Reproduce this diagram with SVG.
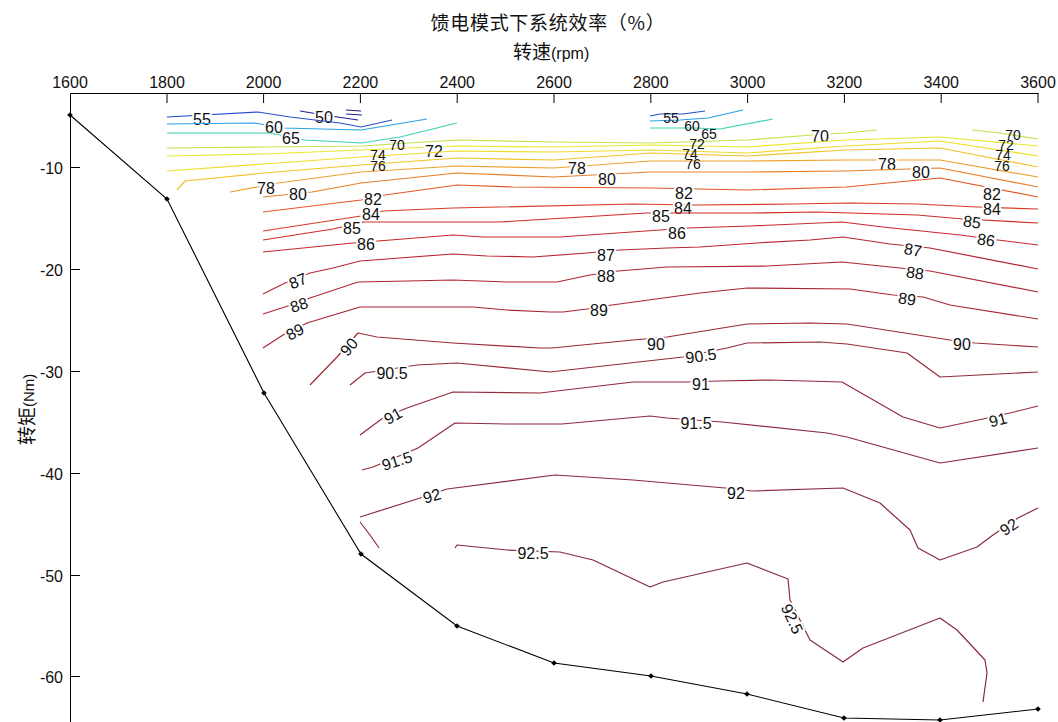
<svg xmlns="http://www.w3.org/2000/svg" width="1058" height="722" viewBox="0 0 1058 722">
<defs>
<marker id="dia" viewBox="-4 -4 8 8" markerWidth="7" markerHeight="7" refX="0" refY="0" markerUnits="userSpaceOnUse">
<path d="M0,-3.2 L3.2,0 L0,3.2 L-3.2,0 Z" fill="#000"/>
</marker>
</defs>
<style>
.ax{stroke:#000;stroke-width:1;fill:none}
.tk{font-family:"Liberation Sans",Arial,sans-serif;font-size:16px;fill:#111}
.c{fill:none;stroke-width:1.2;stroke-linejoin:round}
.l{font-family:"Liberation Sans",Arial,sans-serif;font-size:16px;fill:#111;stroke:#fff;stroke-width:4;paint-order:stroke;text-anchor:middle;dominant-baseline:central}
.n{font-family:"Liberation Sans",Arial,sans-serif;font-size:14px;fill:#111;text-anchor:middle;dominant-baseline:central}
.cjk{font-family:"Noto Sans CJK SC","Liberation Sans",sans-serif;fill:#111}
</style>
<rect width="1058" height="722" fill="#fff"/>

<g id="titles">
<text class="cjk" x="548" y="30" font-size="19" letter-spacing="0.7" text-anchor="middle">馈电模式下系统效率（%）</text>
<text class="cjk" x="513" y="59" font-size="19">转速<tspan font-family="Liberation Sans,Arial,sans-serif" font-size="16">(rpm)</tspan></text>
<text class="cjk" transform="translate(34,445) rotate(-90)" font-size="19">转矩<tspan font-family="Liberation Sans,Arial,sans-serif" font-size="15">(Nm)</tspan></text>
</g>

<g id="axes">
<path class="ax" d="M70.5,93.5 H1038.5 M70.5,93.5 V722"/>
<path class="ax" d="M167,93 V103 M263.6,93 V103 M360.4,93 V103 M457.2,93 V103 M554,93 V103 M650.8,93 V103 M747.6,93 V103 M844.4,93 V103 M941.2,93 V103 M1038,93 V103"/>
<path class="ax" d="M70,167.5 H80 M70,269.5 H80 M70,371.5 H80 M70,473.5 H80 M70,575.5 H80 M70,676.5 H80"/>
<g class="tk" text-anchor="middle">
<text x="70" y="88">1600</text><text x="167" y="88">1800</text><text x="263.6" y="88">2000</text><text x="360.4" y="88">2200</text><text x="457.2" y="88">2400</text><text x="554" y="88">2600</text><text x="650.8" y="88">2800</text><text x="747.6" y="88">3000</text><text x="844.4" y="88">3200</text><text x="941.2" y="88">3400</text><text x="1038" y="88">3600</text>
</g>
<g class="tk" text-anchor="end">
<text x="63" y="174">-10</text><text x="63" y="276">-20</text><text x="63" y="378">-30</text><text x="63" y="480">-40</text><text x="63" y="582">-50</text><text x="63" y="683">-60</text>
</g>
</g>

<g id="connectors">
<g id="c50" stroke="#1c1f96">
<path class="c" d="M300,111 L324,115 L358,120 M346,110 L361,111 M346,114 L362,115"/>
<text class="l" x="324" y="117">50</text>
</g>
<g id="c55" stroke="#2a4fd0">
<path class="c" d="M167,117 L258,112 L290,117 L340,123 L361,127 L392,120 M650,116 L660,114 L683,114 L705,111"/>
<text class="l" x="202" y="119">55</text>
</g>
<g id="c60" stroke="#2aa0e8">
<path class="c" d="M167,124 L255,123 L283,128 L361,130 L427,119 M650,121 L680,120 L708,118 L743,110"/>
<text class="l" x="274" y="127">60</text>
</g>
<g id="c65" stroke="#3cd2b4">
<path class="c" d="M167,133 L270,133 L305,140 L361,143 L400,137 L457,123 M650,128 L695,128 L720,129 L773,119"/>
<text class="l" x="291" y="138">65</text>
</g>
<g id="c70" stroke="#c2e44a">
<path class="c" d="M167,148 L264,147 L361,146 L457,140 L554,142 L651,143 L747,140 L812,135 L846,133 L877,130 M972,130 L1000,133 L1038,139"/>
<text class="l" x="820" y="136">70</text>
</g>
<g id="c72" stroke="#e6e82e">
<path class="c" d="M167,156 L264,154 L361,150 L457,146 L554,147 L651,145 L747,147 L846,140 L940,137 L1038,146"/>
<text class="l" x="434" y="151">72</text>
</g>
<g id="c74" stroke="#f0dc28">
<path class="c" d="M167,171 L264,164 L361,157 L457,151 L554,152 L651,150 L747,153 L846,146 L940,141 L1038,156"/>
</g>
<g id="c76" stroke="#f2c22a">
<path class="c" d="M177,190 L185,181 L264,173 L361,165 L457,158 L554,160 L651,153 L747,156 L846,150 L940,148 L1038,167"/>
</g>
<g id="c78" stroke="#f0a030">
<path class="c" d="M230,192 L257,187 L278,183 L361,172 L457,166 L554,168 L651,161 L747,161 L846,160 L940,160 L1038,177"/>
<text class="l" x="266" y="188">78</text>
<text class="l" x="577" y="168">78</text>
<text class="l" x="887" y="164">78</text>
</g>
<g id="c80" stroke="#e8802a">
<path class="c" d="M263,197 L312,192 L361,183 L457,173 L554,177 L651,172 L747,172 L846,171 L940,168 L1038,187"/>
<text class="l" x="298" y="194">80</text>
<text class="l" x="607" y="179">80</text>
<text class="l" x="921" y="172">80</text>
</g>
<g id="c82" stroke="#e05a28">
<path class="c" d="M263,212 L361,200 L385,195 L457,185 L513,187 L651,188 L747,190 L846,187 L940,178 L1038,197"/>
<text class="l" x="373" y="199">82</text>
<text class="l" x="684" y="193">82</text>
<text class="l" x="992" y="194">82</text>
</g>
<g id="c84" stroke="#d83a26">
<path class="c" d="M263,231 L361,216 L383,211 L453,208 L633,204 L695,205 L793,204 L850,203 L917,204 L977,207 L1038,209"/>
<text class="l" x="371" y="214">84</text>
<text class="l" x="683" y="208">84</text>
<text class="l" x="992" y="209">84</text>
</g>
<g id="c85" stroke="#d02c2a">
<path class="c" d="M263,240 L333,229 L363,222 L500,222 L647,213 L750,213 L817,212 L917,215 L963,219 L1038,223"/>
<text class="l" x="352" y="228">85</text>
<text class="l" x="661" y="216">85</text>
<text class="l" x="972" y="222" transform="rotate(8 972 222)">85</text>
</g>
<g id="c86" stroke="#c8282c">
<path class="c" d="M263,252 L353,243 L378,241 L453,235 L483,237 L560,237 L660,230 L687,228 L750,226 L842,222 L883,227 L960,235 L998,240 L1038,245"/>
<text class="l" x="366" y="244">86</text>
<text class="l" x="677" y="233">86</text>
<text class="l" x="986" y="240" transform="rotate(8 986 240)">86</text>
</g>
<g id="c87" stroke="#b82630">
<path class="c" d="M263,294 L285,283 L310,273 L333,268 L360,261 L453,254 L487,256 L533,257 L587,253 L620,250 L667,248 L700,247 L757,243 L810,240 L843,237 L890,244 L930,248 L1038,269"/>
<text class="l" x="298" y="281" transform="rotate(-22 298 281)">87</text>
<text class="l" x="606" y="255">87</text>
<text class="l" x="913" y="250" transform="rotate(10 913 250)">87</text>
</g>
<g id="c88" stroke="#b02632">
<path class="c" d="M263,314 L285,307 L310,298 L358,282 L407,281 L453,280 L507,282 L557,282 L590,275 L618,271 L667,267 L767,266 L842,262 L900,268 L930,271 L1038,292"/>
<text class="l" x="299" y="305" transform="rotate(-18 299 305)">88</text>
<text class="l" x="606" y="276">88</text>
<text class="l" x="915" y="273" transform="rotate(8 915 273)">88</text>
</g>
<g id="c89" stroke="#a82634">
<path class="c" d="M263,348 L283,335 L307,323 L360,307 L473,307 L507,310 L550,312 L563,312 L587,309 L612,305 L700,293 L747,288 L850,289 L893,295 L923,297 L950,305 L1038,319"/>
<text class="l" x="295" y="332" transform="rotate(-28 295 332)">89</text>
<text class="l" x="599" y="310">89</text>
<text class="l" x="907" y="299" transform="rotate(8 907 299)">89</text>
</g>
<g id="c90" stroke="#9c2838">
<path class="c" d="M310,385 L337,357 L358,333 L377,337 L453,343 L540,348 L552,348 L633,340 L667,337 L747,324 L810,323 L847,324 L950,340 L975,343 L1038,347"/>
<text class="l" x="349" y="347" transform="rotate(-50 349 347)">90</text>
<text class="l" x="656" y="344">90</text>
<text class="l" x="962" y="344">90</text>
</g>
<g id="c90_5" stroke="#962a3a">
<path class="c" d="M350,385 L365,373 L417,365 L457,363 L550,372 L683,357 L727,348 L747,343 L820,342 L847,344 L907,353 L940,377 L1038,372"/>
<text class="l" x="392" y="373">90.5</text>
<text class="l" x="701" y="356" transform="rotate(-8 701 356)">90.5</text>
</g>
<g id="c91" stroke="#922a3c">
<path class="c" d="M360,435 L383,418 L407,408 L453,392 L540,393 L633,382 L687,382 L720,381 L770,380 L842,382 L903,417 L940,428 L983,419 L1010,413 L1038,406"/>
<text class="l" x="393" y="416" transform="rotate(-30 393 416)">91</text>
<text class="l" x="701" y="384">91</text>
<text class="l" x="998" y="420" transform="rotate(-15 998 420)">91</text>
</g>
<g id="c91_5" stroke="#8e2a3e">
<path class="c" d="M362,470 L373,467 L418,448 L455,423 L507,424 L562,424 L650,416 L667,418 L722,422 L827,433 L847,437 L940,463 L1038,448"/>
<text class="l" x="397" y="461" transform="rotate(-18 397 461)">91.5</text>
<text class="l" x="696" y="423">91.5</text>
</g>
<g id="c92" stroke="#8a2a40">
<path class="c" d="M360,517 L417,499 L447,489 L555,475 L633,480 L725,488 L752,491 L843,488 L880,503 L910,530 L918,548 L940,560 L977,547 L993,535 L1018,518 L1038,508 M360,522 L370,535 L379,548"/>
<text class="l" x="432" y="496" transform="rotate(-17 432 496)">92</text>
<text class="l" x="736" y="493">92</text>
<text class="l" x="1009" y="527" transform="rotate(-35 1009 527)">92</text>
</g>
<g id="c92_5" stroke="#862a42">
<path class="c" d="M455,548 L457,545 L507,550 L560,552 L593,560 L650,587 L663,582 L747,563 L788,579 L790,600 L810,640 L843,662 L863,648 L940,618 L957,630 L985,660 L987,673 L983,702"/>
<text class="l" x="533" y="553">92.5</text>
<text class="l" x="792" y="619" transform="rotate(65 792 619)">92.5</text>
</g>
<g id="overlap-labels">
<text class="n" x="397" y="145">70</text>
<text class="n" x="378" y="155">74</text>
<text class="n" x="378" y="166">76</text>
<text class="n" x="671" y="118">55</text>
<text class="n" x="692" y="126">60</text>
<text class="n" x="709" y="134">65</text>
<text class="n" x="697" y="144">72</text>
<text class="n" x="690" y="154">74</text>
<text class="n" x="693" y="164">76</text>
<text class="n" x="1013" y="135">70</text>
<text class="n" x="1006" y="145">72</text>
<text class="n" x="1003" y="155">74</text>
<text class="n" x="1002" y="166">76</text>
</g>
</g>

<g id="boundary">
<polyline fill="none" stroke="#000" stroke-width="1.1" marker-start="url(#dia)" marker-mid="url(#dia)" marker-end="url(#dia)" points="70,115 167,199 264,393 361,554 457,626 554,663 651,676 747,694 844,718 940,720 1038,709"/>
</g>
</svg>
